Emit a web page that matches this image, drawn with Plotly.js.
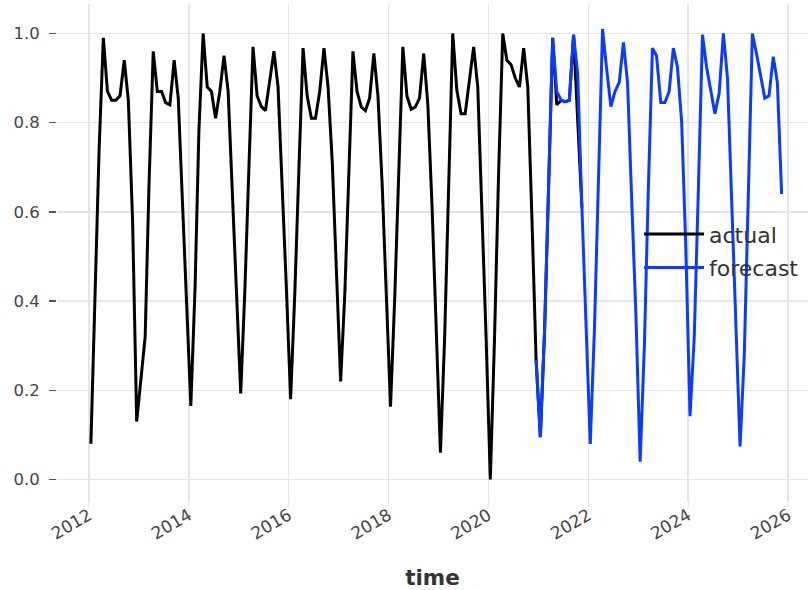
<!DOCTYPE html>
<html>
<head>
<meta charset="utf-8">
<script src="https://cdn.plot.ly/plotly-3.0.1.min.js"></script>
<style>
  html, body { margin: 0; padding: 0; background: #ffffff; }
  #chart { width: 808px; height: 590px; }
</style>
</head>
<body>
<div id="chart"></div>
<script>
// ---- data (monthly values, dated mid-month) ----
const actualStart = "2012-01";
const actualValues = [
  0.08, 0.40, 0.74, 0.99, 0.87, 0.85, 0.85, 0.86, 0.94, 0.85, 0.58, 0.13,
  0.22, 0.32, 0.66, 0.96, 0.87, 0.87, 0.845, 0.84, 0.94, 0.855, 0.62, 0.39,
  0.165, 0.43, 0.78, 1.00, 0.88, 0.87, 0.81, 0.87, 0.95, 0.87, 0.66, 0.42,
  0.193, 0.43, 0.69, 0.97, 0.86, 0.836, 0.827, 0.89, 0.96, 0.88, 0.67, 0.43,
  0.18, 0.42, 0.69, 0.967, 0.86, 0.81, 0.81, 0.87, 0.967, 0.88, 0.71, 0.46,
  0.22, 0.42, 0.69, 0.96, 0.87, 0.835, 0.827, 0.855, 0.955, 0.86, 0.66, 0.42,
  0.163, 0.41, 0.69, 0.97, 0.86, 0.83, 0.835, 0.855, 0.955, 0.84, 0.61, 0.36,
  0.06, 0.32, 0.66, 1.00, 0.873, 0.82, 0.82, 0.89, 0.97, 0.88, 0.61, 0.32,
  0.00, 0.32, 0.68, 1.00, 0.94, 0.93, 0.90, 0.88, 0.967, 0.88, 0.58, 0.268,
  0.095, 0.335, 0.64, 0.99, 0.84, 0.85, 0.847, 0.85, 0.997, 0.80, 0.61
];
const forecastStart = "2020-12";
const forecastValues = [
  0.268,
  0.095, 0.335, 0.64, 0.99, 0.87, 0.851, 0.847, 0.85, 0.997, 0.91, 0.61, 0.36,
  0.08, 0.34, 0.66, 1.01, 0.92, 0.836, 0.87, 0.89, 0.98, 0.89, 0.62, 0.37,
  0.04, 0.30, 0.64, 0.967, 0.95, 0.845, 0.845, 0.87, 0.967, 0.925, 0.80, 0.52,
  0.142, 0.32, 0.64, 0.997, 0.925, 0.87, 0.82, 0.866, 1.00, 0.90, 0.62, 0.37,
  0.074, 0.28, 0.61, 1.00, 0.955, 0.90, 0.855, 0.86, 0.948, 0.89, 0.64
];
const seriesNames = ["actual", "forecast"];
const yTickValues = [0, 0.2, 0.4, 0.6, 0.8, 1.0];
const yTickLabels = ["0.0", "0.2", "0.4", "0.6", "0.8", "1.0"];
const xTickYears = ["2012", "2014", "2016", "2018", "2020", "2022", "2024", "2026"];

function monthlyDates(start, n) {
  const [y0, m0] = start.split("-").map(Number);
  const out = [];
  for (let i = 0; i < n; i++) {
    const t = (m0 - 1) + i;
    const y = y0 + Math.floor(t / 12);
    const m = (t % 12) + 1;
    out.push(y + "-" + String(m).padStart(2, "0") + "-15");
  }
  return out;
}

const traces = [
  {
    x: monthlyDates(actualStart, actualValues.length),
    y: actualValues,
    name: seriesNames[0],
    type: "scatter",
    mode: "lines",
    line: { color: "#000000", width: 3 },
    legendgroup: "a"
  },
  {
    x: monthlyDates(forecastStart, forecastValues.length),
    y: forecastValues,
    name: seriesNames[1],
    type: "scatter",
    mode: "lines",
    line: { color: "#0a3cff", width: 3 },
    legendgroup: "b"
  }
];

const layout = {
  width: 808,
  height: 590,
  margin: { l: 57, r: 0, t: 4, b: 88 },
  paper_bgcolor: "#ffffff",
  plot_bgcolor: "#ffffff",
  font: { family: "DejaVu Sans, sans-serif", color: "#444444" },
  xaxis: {
    type: "date",
    range: ["2011-05-12", "2026-05-27"],
    tickvals: xTickYears.map(y => y + "-01-01"),
    ticktext: xTickYears,
    tickangle: -30,
    tickfont: { size: 17, color: "#444444" },
    showgrid: true,
    gridcolor: "#e5e5e5",
    gridwidth: 1.3,
    zeroline: false,
    showline: false,
    ticks: "outside",
    ticklen: 4,
    tickcolor: "#e5e5e5",
    ticklabelstandoff: -8,
    title: { text: "<b>time</b>", font: { size: 21.5, color: "#333333" }, standoff: 28 }
  },
  yaxis: {
    range: [-0.0504, 1.066],
    tickvals: yTickValues,
    ticktext: yTickLabels,
    tickfont: { size: 16.5, color: "#444444" },
    showgrid: true,
    gridcolor: "#e5e5e5",
    gridwidth: 1.3,
    zeroline: false,
    showline: false,
    ticks: "outside",
    ticklen: 7,
    tickwidth: 1.5,
    tickcolor: "#555555",
    ticklabelstandoff: 6
  },
  showlegend: true,
  legend: {
    x: 0.775,
    y: 0.58,
    xanchor: "left",
    yanchor: "top",
    bgcolor: "rgba(0,0,0,0)",
    borderwidth: 0,
    font: { size: 22, color: "#333333" },
    itemwidth: 60,
    traceorder: "grouped",
    tracegroupgap: 2
  }
};

Plotly.newPlot("chart", traces, layout, { displayModeBar: false, staticPlot: true });
</script>
</body>
</html>
